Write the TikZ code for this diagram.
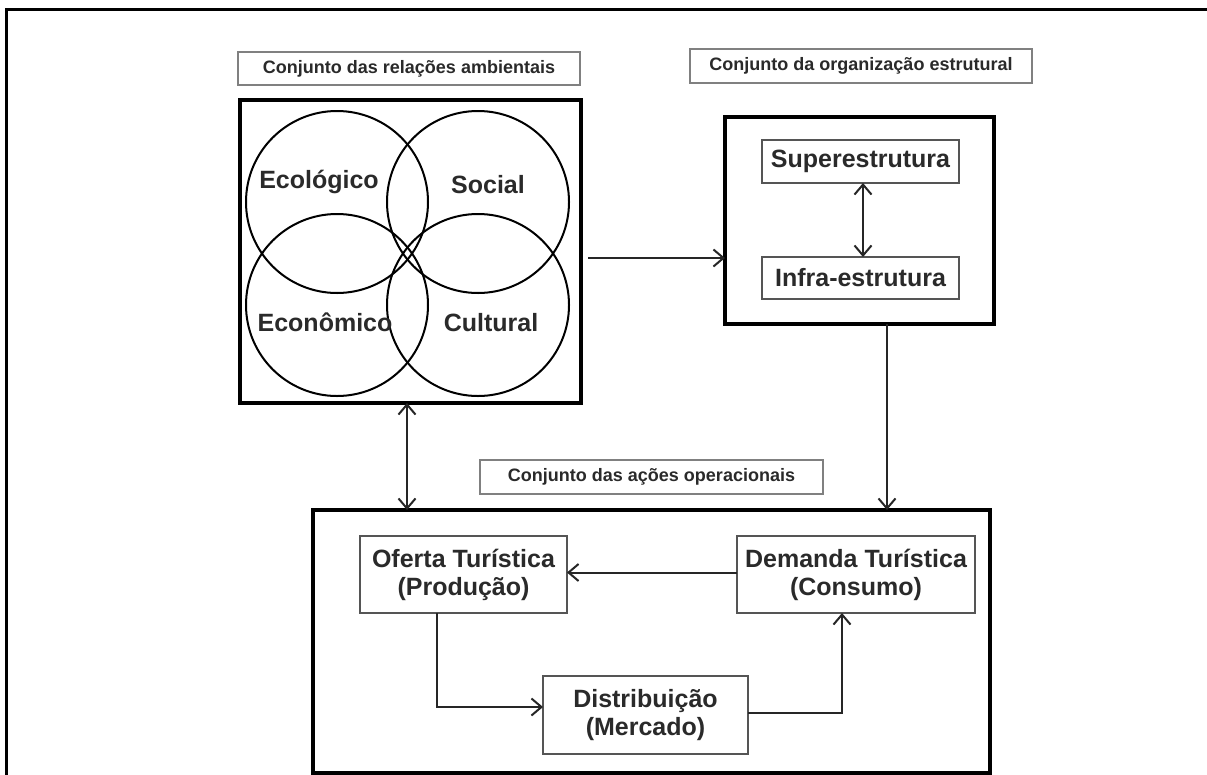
\documentclass[tikz,border=0pt]{standalone}
\usepackage{fontspec}
\setmainfont{Liberation Sans}
\usetikzlibrary{arrows.meta}
\definecolor{txt}{HTML}{2A2A2A}
\definecolor{tbox}{HTML}{808080}
\definecolor{ibox}{HTML}{555555}
\tikzset{
  every node/.style={text=txt, font=\bfseries, inner sep=0pt, outer sep=0pt},
  titlebox/.style={draw=tbox, line width=2.2pt, font=\fontsize{18}{20}\selectfont\bfseries},
  bigbox/.style={draw=black, line width=3.5pt},
  innerbox/.style={draw=ibox, line width=2pt, align=center, font=\fontsize{25}{28}\selectfont\bfseries},
  lbl/.style={font=\fontsize{25}{28}\selectfont\bfseries},
  ring/.style={circle, draw=black, line width=2pt, minimum size=182pt},
  tip/.style={Straight Barb[length=10pt,width=17pt,line width=2pt]},
  conn/.style={draw=black!85, line width=2pt, -{Straight Barb[length=10pt,width=17pt,line width=2pt]}},
  dconn/.style={draw=black!85, line width=2pt, {Straight Barb[length=10pt,width=17pt,line width=2pt]}-{Straight Barb[length=10pt,width=17pt,line width=2pt]}}
}
\begin{document}
\begin{tikzpicture}[x=1pt,y=-1pt]
\useasboundingbox (0,0) rectangle (1207,774);
\fill[white] (0,0) rectangle (1207,774);
% outer frame (top and left)
\draw[line width=3pt] (6,776) -- (6,9) -- (1209,9);

% left group
\node[titlebox, minimum width=342pt, minimum height=33pt] (t1) at (409,68.5) {Conjunto das relações ambientais};
\node[bigbox, minimum width=341pt, minimum height=303pt] (box1) at (410.5,251.5) {};
\node[ring] (c1) at (337,202) {};
\node[ring] (c2) at (478,202) {};
\node[ring] (c3) at (337,305) {};
\node[ring] (c4) at (478,305) {};
\node[lbl] (eco) at (319,182) {Ecológico};
\node[lbl] (soc) at (488,185) {Social};
\node[lbl] (econ) at (325,322) {Econômico};
\node[lbl] (cul) at (491,323) {Cultural};

% right group
\node[titlebox, minimum width=342pt, minimum height=34pt] (t2) at (861,66) {Conjunto da organização estrutural};
\node[bigbox, minimum width=269pt, minimum height=207pt] (box2) at (859.5,220.5) {};
\node[innerbox, minimum width=197pt, minimum height=43pt] (sup) at (860.5,161.5) {Superestrutura};
\node[innerbox, minimum width=197pt, minimum height=42pt] (inf) at (860.5,278) {Infra-estrutura};

% bottom group
\node[titlebox, minimum width=343pt, minimum height=34pt] (t3) at (651.5,477) {Conjunto das ações operacionais};
\node[bigbox, minimum width=677pt, minimum height=263pt] (box3) at (651.5,641.5) {};
\node[innerbox, minimum width=207pt, minimum height=77pt] (ofe) at (463.5,574.5) {Oferta Turística\\(Produção)};
\node[innerbox, minimum width=238pt, minimum height=77pt] (dem) at (856,574.5) {Demanda Turística\\(Consumo)};
\node[innerbox, minimum width=205pt, minimum height=78pt] (dis) at (645.5,715) {Distribuição\\(Mercado)};

% connectors
\coordinate (a1) at (588,258);
\draw[conn] (a1) -- (a1 -| box2.west);
\draw[dconn] ([xshift=2.5pt]sup.south) -- ([xshift=2.5pt]inf.north);
\coordinate (b2) at (887,324);
\draw[conn] (b2) -- (b2 |- box3.north);
\coordinate (b1) at (407,403);
\draw[dconn] (b1) -- (b1 |- box3.north);
\draw[conn] ([yshift=2pt]dem.west) -- ([yshift=2pt]dem.west -| ofe.east);
\coordinate (p1) at (437,613);
\draw[conn] (p1) |- ([yshift=8pt]dis.west);
\coordinate (p2) at (842,613);
\draw[conn] ([yshift=2pt]dis.east) -| (p2);
\end{tikzpicture}
\end{document}
